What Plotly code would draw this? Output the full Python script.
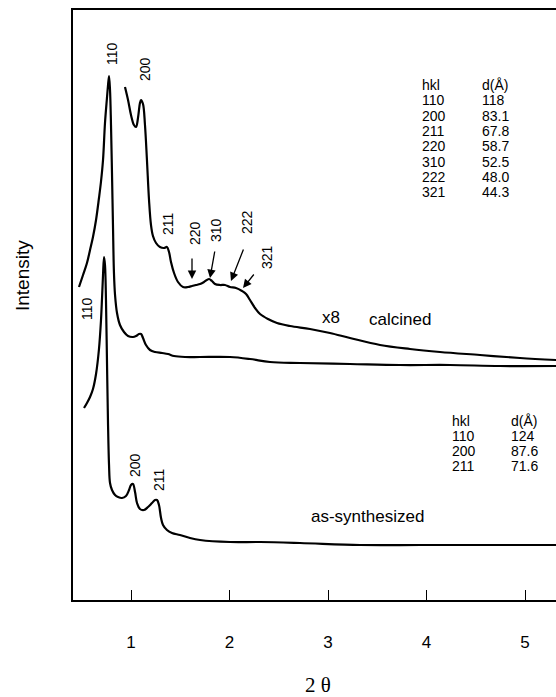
import plotly.graph_objects as go

# ---------------- data (2-theta in degrees, intensity in arbitrary units) ----------------
# calcined, scaled x8 (starts right of the 110 peak)
calc8_x = [0.939, 0.970, 1.000, 1.030, 1.051, 1.071, 1.091, 1.102, 1.122, 1.142, 1.162, 1.183,
           1.203, 1.223, 1.254, 1.294, 1.335, 1.365, 1.386, 1.406, 1.437, 1.477, 1.528, 1.579,
           1.619, 1.660, 1.701, 1.741, 1.792, 1.822, 1.853, 1.904, 1.954, 2.005, 2.066, 2.127,
           2.168, 2.208, 2.259, 2.310, 2.391, 2.482, 2.614, 2.817, 3.020, 3.223, 3.528, 3.832,
           4.137, 4.543, 4.949, 5.315]
calc8_y = [513, 500, 485, 475, 473, 482, 497, 500, 496, 475, 440, 400,
           375, 364, 357, 353, 352, 353, 348, 338, 327, 318, 313, 313,
           314, 315, 316, 318, 321, 319, 316, 315, 315, 313, 312, 309,
           306, 300, 292, 286, 281, 277, 274, 271, 267, 262, 255, 251,
           248, 245, 242, 240]

# calcined, unscaled
calc_x = [0.472, 0.513, 0.553, 0.584, 0.614, 0.645, 0.675, 0.695, 0.716, 0.736, 0.756, 0.766,
          0.777, 0.787, 0.797, 0.807, 0.817, 0.827, 0.838, 0.858, 0.888, 0.929, 0.970, 1.020,
          1.051, 1.081, 1.102, 1.122, 1.152, 1.193, 1.244, 1.315, 1.376, 1.437, 1.548, 1.701,
          2.005, 2.208, 2.411, 2.716, 3.223, 3.731, 4.239, 4.746, 5.315]
calc_y = [313, 325, 337, 350, 363, 380, 402, 418, 440, 477, 502, 514,
          524, 510, 475, 427, 375, 327, 305, 287, 275, 268, 264, 263,
          264, 266, 266, 262, 255, 250, 248, 247, 246, 244, 243, 243,
          243, 241, 238, 237, 236, 235, 235, 234, 234]

# as-synthesized
syn_x = [0.523, 0.553, 0.584, 0.614, 0.645, 0.675, 0.695, 0.706, 0.716, 0.726, 0.736, 0.746,
         0.756, 0.766, 0.777, 0.787, 0.807, 0.838, 0.868, 0.909, 0.949, 0.980, 1.000, 1.020,
         1.041, 1.061, 1.091, 1.132, 1.173, 1.213, 1.244, 1.264, 1.284, 1.305, 1.325, 1.365,
         1.416, 1.497, 1.599, 1.701, 2.005, 2.310, 2.716, 3.325, 3.934, 4.543, 5.315]
syn_y = [192, 197, 203, 211, 226, 251, 279, 302, 325, 343, 335, 300,
         240, 180, 135, 117, 110, 105, 103, 102, 104, 110, 115, 116,
         108, 97, 91, 90, 93, 97, 100, 100, 95, 82, 75, 70,
         67, 65, 62, 60, 58, 58, 57, 55, 55, 55, 55]

x_ticks = [1, 2, 3, 4, 5]

tab1_hkl = ["110", "200", "211", "220", "310", "222", "321"]
tab1_d = ["118", "83.1", "67.8", "58.7", "52.5", "48.0", "44.3"]
tab2_hkl = ["110", "200", "211"]
tab2_d = ["124", "87.6", "71.6"]

# ---------------- layout geometry ----------------
W, H = 556, 697
L, R, T, B = 73, 0, 10, 97
X0, X1 = 0.4112, 5.3147
YMAX = H - B - T
PW, PH = W - L - R, H - T - B


def px2x(px):
    return X0 + (px - L) / PW * (X1 - X0)


def py2y(py):
    return (H - B) - py


FONT = "Liberation Sans, Arial, Helvetica, sans-serif"
line_style = dict(color="black", width=2.2)

fig = go.Figure()
for xs, ys in [(calc8_x, calc8_y), (calc_x, calc_y), (syn_x, syn_y)]:
    fig.add_trace(go.Scatter(x=xs, y=ys, mode="lines", line=line_style,
                             line_shape="spline", hoverinfo="skip", showlegend=False))

ann = []

# rotated peak labels
peak_labels = [("110", 112, 54), ("200", 145, 69), ("211", 168, 224), ("220", 195, 233),
               ("310", 216, 230), ("222", 247, 222), ("321", 267, 257),
               ("110", 87, 309), ("200", 135, 465), ("211", 159, 480)]
for t, px, py in peak_labels:
    ann.append(dict(x=px2x(px), y=py2y(py), xref="x", yref="y", text=t, textangle=-90,
                    showarrow=False, xanchor="center", yanchor="middle",
                    font=dict(family=FONT, size=14, color="black")))

# arrows (head, tail)
arrows = [((192, 279), (192, 257)), ((210, 278), (215, 250)),
          ((231, 281), (244, 248)), ((243, 288), (255, 273))]
for (hx, hy), (tx, ty) in arrows:
    ann.append(dict(x=px2x(hx), y=py2y(hy), ax=px2x(tx), ay=py2y(ty), xref="x", yref="y",
                    axref="x", ayref="y", text="", showarrow=True, arrowhead=2,
                    arrowsize=1.3, arrowwidth=1.3, arrowcolor="black", standoff=0))

# curve names
for t, px, py, s in [("x8", 331, 317, 17), ("calcined", 400, 319, 17),
                     ("as-synthesized", 367, 516, 17)]:
    ann.append(dict(x=px2x(px), y=py2y(py), xref="x", yref="y", text=t, showarrow=False,
                    xanchor="center", yanchor="middle",
                    font=dict(family=FONT, size=s, color="black")))


# tables
def add_table(hkl, dv, x_h, x_d, y0, dy):
    rows = [("hkl", "d(Å)")] + list(zip(hkl, dv))
    for i, (a, b) in enumerate(rows):
        yy = py2y(y0 + i * dy)
        for txt, xx in ((a, x_h), (b, x_d)):
            ann.append(dict(x=px2x(xx), y=yy, xref="x", yref="y", text=txt, showarrow=False,
                            xanchor="left", yanchor="middle", borderpad=0,
                            font=dict(family=FONT, size=14, color="black")))


add_table(tab1_hkl, tab1_d, 421, 481, 85, 15.3)
add_table(tab2_hkl, tab2_d, 451, 510, 421, 15.0)

# axis titles
ann.append(dict(x=(318 - L) / PW, y=(H - B - 685) / PH, xref="paper", yref="paper",
                text="2 θ", showarrow=False, xanchor="center", yanchor="middle",
                font=dict(family="Liberation Serif, Times New Roman, serif",
                          size=21, color="black")))
ann.append(dict(x=(22 - L) / PW, y=(H - B - 276) / PH, xref="paper", yref="paper",
                text="Intensity", showarrow=False, textangle=-90,
                xanchor="center", yanchor="middle",
                font=dict(family=FONT, size=19, color="black")))

fig.update_layout(
    width=W, height=H,
    margin=dict(l=L, r=R, t=T, b=B, pad=0),
    paper_bgcolor="white", plot_bgcolor="white",
    annotations=ann,
    xaxis=dict(range=[X0, X1], showgrid=False, zeroline=False,
               showline=True, linecolor="black", linewidth=2, mirror=True,
               ticks="inside", ticklen=10, tickwidth=1.2, tickcolor="black",
               tickvals=x_ticks, ticktext=[str(v) for v in x_ticks],
               ticklabelstandoff=26,
               tickfont=dict(family=FONT, size=17, color="black")),
    yaxis=dict(range=[0, YMAX], showgrid=False, zeroline=False, showticklabels=False,
               showline=True, linecolor="black", linewidth=2, mirror=False, ticks=""),
)

fig.write_html("out.html")
